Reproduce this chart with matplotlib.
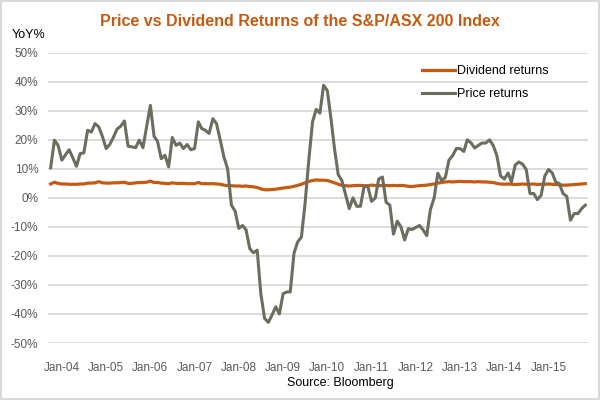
import matplotlib
matplotlib.use("Agg")
import matplotlib.pyplot as plt
import matplotlib.dates as mdates
from matplotlib.patches import Rectangle
import numpy as np
import pandas as pd

plt.rcParams['font.family'] = ['Liberation Sans', 'DejaVu Sans']

# monthly observations, Oct-03 onwards
months = pd.date_range('2003-10-01', periods=146, freq='MS')

price_returns = [
    10.4, 19.9, 18.1, 13.0, 14.9, 16.6, 13.8, 10.9, 15.3, 15.5,
    23.3, 22.7, 25.6, 24.5, 21.2, 17.0, 18.5, 20.8, 23.7, 24.7,
    26.5, 17.8, 17.6, 17.3, 19.9, 17.3, 24.5, 31.9, 21.2, 19.5,
    13.5, 14.7, 10.7, 20.8, 18.1, 18.9, 17.0, 18.4, 16.6, 17.0,
    26.2, 23.9, 23.3, 22.2, 27.3, 25.6, 19.9, 14.0, 10.0, -2.5,
    -4.5, -10.5, -9.5, -11.0, -17.5, -18.9, -18.0, -33.0, -41.5, -42.9,
    -40.4, -37.5, -40.0, -33.0, -32.4, -32.4, -19.0, -15.2, -13.5, -2.0,
    13.0, 26.2, 30.5, 29.2, 38.8, 37.0, 27.0, 17.0, 8.0, 6.0,
    1.0, -3.7, 0.0, -2.9, -2.9, 4.0, 4.0, -1.2, 0.0, 6.5,
    7.2, -1.5, -2.5, -12.5, -8.0, -10.0, -14.5, -10.6, -10.9, -10.2,
    -9.5, -11.0, -13.0, -4.0, 0.0, 8.5, 6.0, 7.0, 13.0, 14.6,
    17.0, 17.0, 16.0, 20.0, 19.0, 17.2, 18.1, 18.9, 18.9, 20.0,
    18.1, 14.5, 7.6, 6.5, 8.6, 5.5, 11.3, 12.4, 11.6, 9.8,
    1.5, 1.5, -0.6, 0.9, 7.5, 9.8, 8.6, 5.5, 4.9, 1.5,
    0.5, -7.7, -5.4, -5.4, -3.7, -2.5,
]

dividend_returns = [
    4.8, 5.4, 5.0, 4.8, 4.8, 4.7, 4.7, 4.7, 4.8, 4.8,
    5.1, 5.1, 5.2, 5.6, 5.2, 5.1, 5.1, 5.2, 5.2, 5.3,
    5.4, 5.0, 5.0, 5.2, 5.3, 5.3, 5.4, 5.8, 5.3, 5.3,
    5.1, 5.0, 4.9, 5.2, 5.0, 5.0, 5.0, 4.9, 4.9, 4.9,
    5.3, 4.9, 4.9, 4.9, 4.9, 4.8, 4.7, 4.4, 4.2, 4.2,
    4.1, 4.1, 4.0, 4.1, 3.9, 3.8, 3.6, 3.1, 2.8, 2.8,
    2.9, 3.0, 3.2, 3.4, 3.6, 3.7, 4.0, 4.3, 4.7, 5.2,
    5.7, 6.0, 6.2, 6.1, 6.1, 6.0, 5.6, 5.2, 4.7, 4.3,
    4.2, 4.1, 4.2, 4.3, 4.3, 4.2, 4.2, 4.4, 4.3, 4.2,
    4.3, 4.3, 4.2, 4.3, 4.2, 4.3, 4.2, 4.0, 3.9, 4.1,
    4.2, 4.3, 4.4, 4.6, 4.8, 5.1, 5.3, 5.5, 5.6, 5.5,
    5.6, 5.7, 5.6, 5.6, 5.6, 5.5, 5.6, 5.5, 5.5, 5.4,
    5.3, 5.0, 4.8, 4.7, 4.8, 4.7, 4.6, 4.7, 4.8, 4.7,
    4.7, 4.8, 4.6, 4.7, 4.7, 4.8, 4.7, 4.6, 4.5, 4.4,
    4.4, 4.5, 4.6, 4.7, 4.8, 4.9,
]

y_ticks = list(range(-50, 51, 10))
tick_years = list(range(2004, 2016))

orange = '#C55A11'
olive = '#6B6E5E'
grey_txt = '#595959'

fig = plt.figure(figsize=(6, 4), dpi=100)
ax = fig.add_axes([0.08, 0.1425, 0.90, 0.7255])

ax.plot(months, dividend_returns, color=orange, lw=2.3, label='Dividend returns', zorder=3)
ax.plot(months, price_returns, color=olive, lw=2.2, label='Price returns', zorder=3)

ax.set_ylim(-50, 50)
ax.set_yticks(y_ticks)
ax.set_yticklabels([f'{v}%' for v in y_ticks])
ax.set_xlim(months[0] - pd.Timedelta(days=22), months[-1] + pd.Timedelta(days=22))
ax.set_xticks([pd.Timestamp(f'{y}-01-01') for y in tick_years])
ax.xaxis.set_major_formatter(mdates.DateFormatter('%b-%y'))

ax.grid(axis='y', color='#D9D9D9', lw=1.3)
ax.set_axisbelow(True)
for s in ax.spines.values():
    s.set_visible(False)
ax.tick_params(axis='both', length=0, labelsize=8.5, labelcolor=grey_txt)
ax.tick_params(axis='x', pad=14)
ax.tick_params(axis='y', pad=7)

ax.legend(loc='upper left', bbox_to_anchor=(0.685, 0.865), bbox_transform=fig.transFigure,
          frameon=False, fontsize=9, handlelength=2.6, handletextpad=0.2,
          labelspacing=0.85)

fig.text(0.5, 0.947, 'Price vs Dividend Returns of the S&P/ASX 200 Index',
         ha='center', va='center', color=orange, fontsize=11.5, fontweight='bold')
fig.text(0.02, 0.912, 'YoY%', ha='left', va='center', fontsize=9, color='black')
fig.text(0.568, 0.042, 'Source: Bloomberg', ha='center', va='center', fontsize=9, color='black')

fig.patches.append(Rectangle((0.002, 0.003), 0.996, 0.994, transform=fig.transFigure,
                             fill=False, edgecolor='#D9D9D9', lw=1.5))

fig.savefig('out.png', dpi=100)
